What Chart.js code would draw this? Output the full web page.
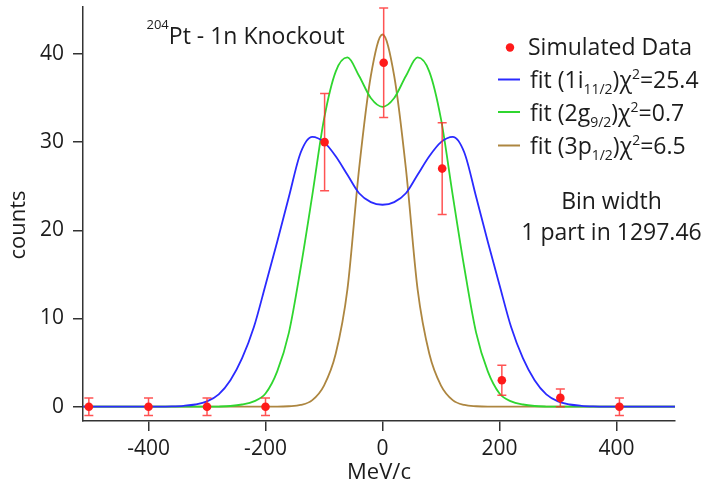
<!DOCTYPE html>
<html>
<head>
<meta charset="utf-8">
<script src="https://cdn.jsdelivr.net/npm/chart.js@4.4.0/dist/chart.umd.min.js"></script>
<style>
html,body{margin:0;padding:0;background:#fff;}
#wrap{width:703px;height:487px;position:relative;}
</style>
</head>
<body>
<div id="wrap"><canvas id="c" width="703" height="487"></canvas></div>
<script>
// ---- data ----
const binCenters = [-502, -400, -300, -200, -99, 2, 102, 204, 304, 405];
const counts = [0, 0, 0, 0, 30, 39, 27, 3, 1, 0];
const countErrors = [1, 1, 1, 1, 5.5, 6.2, 5.2, 1.7, 1, 1];

const curveX = [-512, -500, -480, -460, -440, -420, -400, -380, -360, -340, -320, -300, -280, -260, -240, -220, -200, -180, -160, -140, -120, -100, -80, -60, -40, -20, 0,
  20, 40, 60, 80, 100, 120, 140, 160, 180, 200, 220, 240, 260, 280, 300, 320, 340, 360, 380, 400, 420, 440, 460, 480, 500];

const fit1i = [0, 0, 0, 0, 0, 0, 0, 0, 0.03, 0.1, 0.25, 0.6, 1.4, 3.0, 5.5, 9.0, 13.8, 18.7, 23.8, 28.8, 30.6, 30.0, 28.4, 26.3, 24.2, 23.2, 22.9,
  23.2, 24.2, 26.3, 28.4, 30.0, 30.6, 28.8, 23.8, 18.7, 13.8, 9.0, 5.5, 3.0, 1.4, 0.6, 0.25, 0.1, 0.03, 0, 0, 0, 0, 0, 0, 0];

const fit2g = [0, 0, 0, 0, 0, 0, 0, 0, 0, 0, 0, 0, 0.02, 0.08, 0.25, 0.6, 1.5, 4.0, 8.4, 15.7, 24.0, 32.6, 38.0, 39.6, 37.5, 35.0, 34.0,
  35.0, 37.5, 39.6, 38.0, 32.6, 24.0, 15.7, 8.4, 4.0, 1.5, 0.6, 0.25, 0.08, 0.02, 0, 0, 0, 0, 0, 0, 0, 0, 0, 0, 0];

const fit3p = [0, 0, 0, 0, 0, 0, 0, 0, 0, 0, 0, 0, 0, 0, 0, 0, 0, 0, 0.05, 0.2, 0.75, 2.4, 6.0, 13.3, 27.0, 37.5, 42.2,
  37.5, 27.0, 13.3, 6.0, 2.4, 0.75, 0.2, 0.05, 0, 0, 0, 0, 0, 0, 0, 0, 0, 0, 0, 0, 0, 0, 0, 0, 0];

const xTicks = [-400, -200, 0, 200, 400];
const yTicks = [0, 10, 20, 30, 40];

// ---- styling ----
const FAM = "'Open Sans', sans-serif";
const AXIS = '#333';
const TXT = '#1c1c1c';
const RED = '#ff1a1a';
const BLUE = '#2a2aff';
const GREEN = '#2fd62f';
const BROWN = '#ad8640';

const errorBars = {
  id: 'errorBars',
  beforeDatasetDraw(chart, args) {
    if (args.index !== 0) return;
    const {ctx, scales: {x, y}, chartArea: a} = chart;
    ctx.save();
    ctx.beginPath();
    ctx.rect(a.left, a.top - 2, a.right - a.left, a.bottom - a.top + 2);
    ctx.clip();
    ctx.strokeStyle = 'rgba(255,40,40,0.8)';
    ctx.lineWidth = 1.5;
    binCenters.forEach((bx, i) => {
      const px = x.getPixelForValue(bx);
      const t = y.getPixelForValue(counts[i] + countErrors[i]);
      const b = y.getPixelForValue(counts[i] - countErrors[i]);
      ctx.beginPath();
      ctx.moveTo(px, t); ctx.lineTo(px, b);
      ctx.moveTo(px - 4.5, t); ctx.lineTo(px + 4.5, t);
      ctx.moveTo(px - 4.5, b); ctx.lineTo(px + 4.5, b);
      ctx.stroke();
    });
    ctx.restore();
  }
};

function drawRich(ctx, x, base, parts) {
  parts.forEach(p => {
    ctx.font = p.s + 'px ' + FAM;
    ctx.fillText(p.t, x, base + (p.dy || 0));
    x += ctx.measureText(p.t).width;
  });
}

const annotations = {
  id: 'annotations',
  afterDraw(chart) {
    const ctx = chart.ctx;
    ctx.save();
    ctx.fillStyle = TXT;
    ctx.textAlign = 'left';
    ctx.textBaseline = 'alphabetic';
    // title
    drawRich(ctx, 146.5, 44, [{t: '204', s: 13, dy: -15.5}, {t: 'Pt - 1n Knockout', s: 23}]);
    // y axis title
    ctx.save();
    ctx.translate(25, 225);
    ctx.rotate(-Math.PI / 2);
    ctx.textAlign = 'center';
    ctx.font = '22px ' + FAM;
    ctx.fillText('counts', 0, 0);
    ctx.restore();
    // legend
    ctx.fillStyle = RED;
    ctx.beginPath(); ctx.arc(510, 47.5, 4.2, 0, Math.PI * 2); ctx.fill();
    ctx.fillStyle = TXT;
    drawRich(ctx, 528, 55, [{t: 'Simulated Data', s: 23}]);
    const rows = [
      {c: BLUE, y: 79.5, parts: [{t: 'fit (1i', s: 23}, {t: '11/2', s: 14, dy: 6}, {t: ')χ', s: 23}, {t: '2', s: 14, dy: -9}, {t: '=25.4', s: 23}]},
      {c: GREEN, y: 112, parts: [{t: 'fit (2g', s: 23}, {t: '9/2', s: 14, dy: 6}, {t: ')χ', s: 23}, {t: '2', s: 14, dy: -9}, {t: '=0.7', s: 23}]},
      {c: BROWN, y: 145.5, parts: [{t: 'fit (3p', s: 23}, {t: '1/2', s: 14, dy: 6}, {t: ')χ', s: 23}, {t: '2', s: 14, dy: -9}, {t: '=6.5', s: 23}]}
    ];
    rows.forEach(r => {
      ctx.strokeStyle = r.c; ctx.lineWidth = 2;
      ctx.beginPath(); ctx.moveTo(498, r.y); ctx.lineTo(520, r.y); ctx.stroke();
      ctx.fillStyle = TXT;
      drawRich(ctx, 530, r.y + 8.5, r.parts);
    });
    // bin width note
    ctx.textAlign = 'center';
    ctx.font = '23px ' + FAM;
    ctx.fillText('Bin width', 611.5, 208.5);
    ctx.fillText('1 part in 1297.46', 611.5, 240);
    ctx.restore();
  }
};

const pts = (xs, ys) => xs.map((x, i) => ({x: x, y: ys[i]}));

new Chart(document.getElementById('c'), {
  type: 'scatter',
  data: {
    datasets: [
      {label: 'Simulated Data', data: pts(binCenters, counts), showLine: false,
       pointRadius: 4.3, pointBackgroundColor: RED, pointBorderWidth: 0, pointBorderColor: RED},
      {label: 'fit (1i11/2)', data: pts(curveX, fit1i), showLine: true, pointRadius: 0,
       borderColor: BLUE, borderWidth: 1.8, cubicInterpolationMode: 'monotone'},
      {label: 'fit (2g9/2)', data: pts(curveX, fit2g), showLine: true, pointRadius: 0,
       borderColor: GREEN, borderWidth: 1.8, cubicInterpolationMode: 'monotone'},
      {label: 'fit (3p1/2)', data: pts(curveX, fit3p), showLine: true, pointRadius: 0,
       borderColor: BROWN, borderWidth: 1.8, cubicInterpolationMode: 'monotone'}
    ]
  },
  options: {
    responsive: false,
    animation: false,
    devicePixelRatio: 1,
    layout: {padding: {left: 0, right: 28, top: 7, bottom: 0}},
    plugins: {legend: {display: false}, tooltip: {enabled: false}},
    scales: {
      x: {
        type: 'linear', min: -512, max: 500,
        afterBuildTicks: s => { s.ticks = xTicks.map(v => ({value: v})); },
        afterFit: s => { s.height = 66; s.paddingLeft = 0; s.paddingRight = 0; },
        grid: {display: true, drawOnChartArea: false, drawTicks: true, tickLength: 10, color: AXIS, lineWidth: 1.5},
        border: {display: true, color: AXIS, width: 1.5},
        ticks: {font: {family: FAM, size: 21}, color: TXT, padding: 5, maxRotation: 0, callback: v => String(v)},
        title: {display: true, text: 'MeV/c', font: {family: FAM, size: 22}, color: TXT, padding: {top: 0, bottom: 1}}
      },
      y: {
        type: 'linear', min: -1.62, max: 45.32,
        afterBuildTicks: s => { s.ticks = yTicks.map(v => ({value: v})); },
        afterFit: s => { s.width = 83; s.paddingTop = 0; s.paddingBottom = 0; },
        grid: {display: true, drawOnChartArea: false, drawTicks: true, tickLength: 10, color: AXIS, lineWidth: 1.5},
        border: {display: true, color: AXIS, width: 1.5},
        ticks: {font: {family: FAM, size: 21}, color: TXT, padding: 9, callback: v => String(v)},
        title: {display: false}
      }
    }
  },
  plugins: [errorBars, annotations]
});
</script>
</body>
</html>
